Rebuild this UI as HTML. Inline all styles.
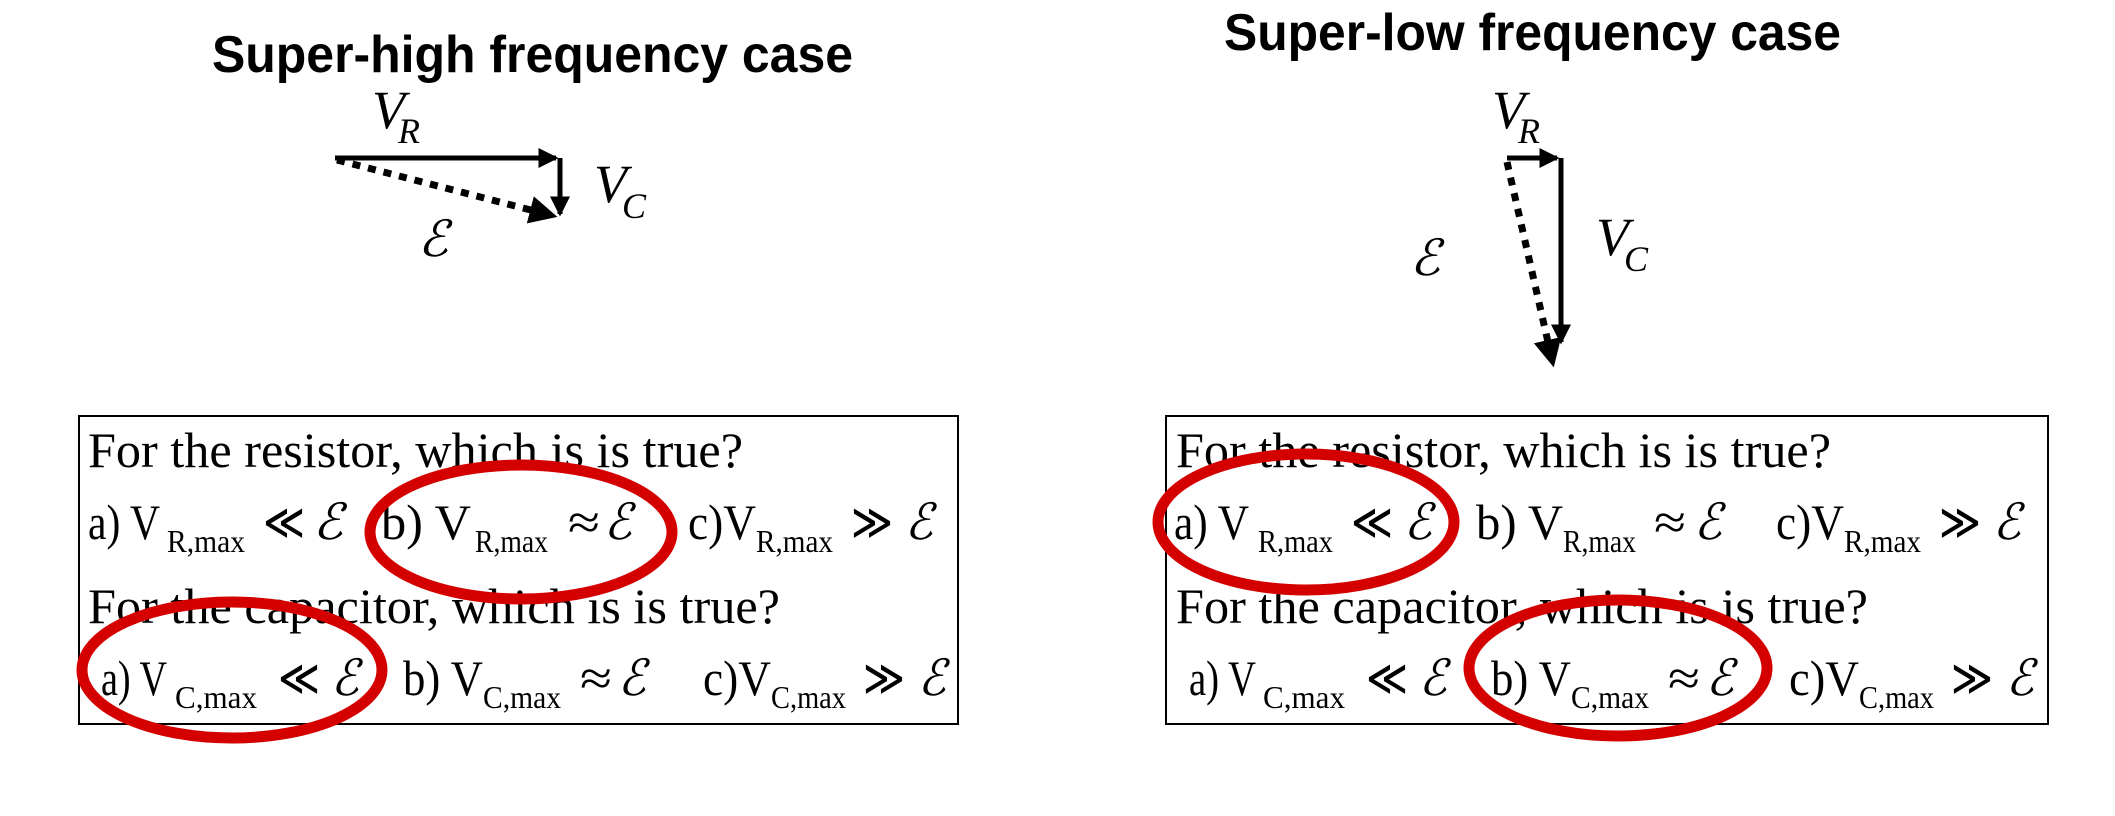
<!DOCTYPE html>
<html><head><meta charset="utf-8"><style>
html,body{margin:0;padding:0;background:#fff;}
svg{display:block;}
.t{font-family:"Liberation Sans",Arial,sans-serif;font-weight:bold;font-size:52px;}
.s{font-family:"Liberation Serif","Times New Roman",serif;font-size:50px;}
.sub{font-size:32px;}
.it{font-family:"Liberation Serif","DejaVu Serif",serif;font-style:italic;}
</style></head><body>
<svg width="2115" height="816" viewBox="0 0 2115 816" xmlns="http://www.w3.org/2000/svg">
<defs>
<marker id="ah" markerWidth="4" markerHeight="4" refX="3.5" refY="2" orient="auto" markerUnits="strokeWidth"><path d="M0,0 L4,2 L0,4 z" fill="#000"/></marker>
</defs>
<text class="t" x="212" y="72" textLength="641" lengthAdjust="spacingAndGlyphs">Super-high frequency case</text>
<text class="t" x="1224" y="50" textLength="617" lengthAdjust="spacingAndGlyphs">Super-low frequency case</text>

<line x1="335" y1="158" x2="556" y2="158" stroke="#000" stroke-width="5" marker-end="url(#ah)"/>
<line x1="560" y1="158" x2="560" y2="214" stroke="#000" stroke-width="5" marker-end="url(#ah)"/>
<line x1="337" y1="160" x2="554" y2="216" stroke="#000" stroke-width="7" stroke-dasharray="8,8" marker-end="url(#ah)"/>
<text class="it" x="372" y="128" font-size="54">V</text><text class="it" x="398" y="143" font-size="36">R</text>
<text class="it" x="594" y="202" font-size="54">V</text><text class="it" x="622" y="218" font-size="36">C</text>
<text class="it" x="418" y="256" font-size="50">ℰ</text>

<line x1="1507" y1="158" x2="1557" y2="158" stroke="#000" stroke-width="5" marker-end="url(#ah)"/>
<line x1="1561" y1="158" x2="1561" y2="342" stroke="#000" stroke-width="5" marker-end="url(#ah)"/>
<line x1="1507" y1="162" x2="1553" y2="364" stroke="#000" stroke-width="7" stroke-dasharray="8,8" marker-end="url(#ah)"/>
<text class="it" x="1492" y="128" font-size="54">V</text><text class="it" x="1518" y="143" font-size="36">R</text>
<text class="it" x="1596" y="255" font-size="54">V</text><text class="it" x="1624" y="271" font-size="36">C</text>
<text class="it" x="1410" y="275" font-size="50">ℰ</text>

<rect x="79" y="416" width="879" height="308" fill="none" stroke="#000" stroke-width="2"/>
<rect x="1166" y="416" width="882" height="308" fill="none" stroke="#000" stroke-width="2"/>

<g class="s">
<text x="88" y="467" textLength="655" lengthAdjust="spacingAndGlyphs">For the resistor, which is is true?</text>
<text x="88" y="623" textLength="692" lengthAdjust="spacingAndGlyphs">For the capacitor, which is is true?</text>

<text x="88" y="539" textLength="72" lengthAdjust="spacingAndGlyphs">a) V</text><text class="sub" x="167" y="552" textLength="78" lengthAdjust="spacingAndGlyphs">R,max</text><text x="263" y="539" textLength="42" lengthAdjust="spacingAndGlyphs">≪</text><text class="it" x="313" y="539" textLength="30" lengthAdjust="spacingAndGlyphs">ℰ</text>
<text x="381" y="539" textLength="90" lengthAdjust="spacingAndGlyphs">b) V</text><text class="sub" x="475" y="552" textLength="73" lengthAdjust="spacingAndGlyphs">R,max</text><text x="568" y="539" textLength="32" lengthAdjust="spacingAndGlyphs">≈</text><text class="it" x="604" y="539" textLength="28" lengthAdjust="spacingAndGlyphs">ℰ</text>
<text x="688" y="539" textLength="68" lengthAdjust="spacingAndGlyphs">c)V</text><text class="sub" x="756" y="552" textLength="77" lengthAdjust="spacingAndGlyphs">R,max</text><text x="851" y="539" textLength="42" lengthAdjust="spacingAndGlyphs">≫</text><text class="it" x="905" y="539" textLength="28" lengthAdjust="spacingAndGlyphs">ℰ</text>

<text x="101" y="695" textLength="66" lengthAdjust="spacingAndGlyphs">a) V</text><text class="sub" x="175" y="708" textLength="82" lengthAdjust="spacingAndGlyphs">C,max</text><text x="278" y="695" textLength="42" lengthAdjust="spacingAndGlyphs">≪</text><text class="it" x="331" y="695" textLength="28" lengthAdjust="spacingAndGlyphs">ℰ</text>
<text x="403" y="695" textLength="80" lengthAdjust="spacingAndGlyphs">b) V</text><text class="sub" x="483" y="708" textLength="78" lengthAdjust="spacingAndGlyphs">C,max</text><text x="580" y="695" textLength="32" lengthAdjust="spacingAndGlyphs">≈</text><text class="it" x="618" y="695" textLength="28" lengthAdjust="spacingAndGlyphs">ℰ</text>
<text x="703" y="695" textLength="68" lengthAdjust="spacingAndGlyphs">c)V</text><text class="sub" x="771" y="708" textLength="75" lengthAdjust="spacingAndGlyphs">C,max</text><text x="863" y="695" textLength="42" lengthAdjust="spacingAndGlyphs">≫</text><text class="it" x="918" y="695" textLength="28" lengthAdjust="spacingAndGlyphs">ℰ</text>

<text x="1176" y="467" textLength="655" lengthAdjust="spacingAndGlyphs">For the resistor, which is is true?</text>
<text x="1176" y="623" textLength="692" lengthAdjust="spacingAndGlyphs">For the capacitor, which is is true?</text>

<text x="1174" y="539" textLength="75" lengthAdjust="spacingAndGlyphs">a) V</text><text class="sub" x="1258" y="552" textLength="75" lengthAdjust="spacingAndGlyphs">R,max</text><text x="1351" y="539" textLength="42" lengthAdjust="spacingAndGlyphs">≪</text><text class="it" x="1404" y="539" textLength="28" lengthAdjust="spacingAndGlyphs">ℰ</text>
<text x="1476" y="539" textLength="87" lengthAdjust="spacingAndGlyphs">b) V</text><text class="sub" x="1563" y="552" textLength="73" lengthAdjust="spacingAndGlyphs">R,max</text><text x="1654" y="539" textLength="32" lengthAdjust="spacingAndGlyphs">≈</text><text class="it" x="1694" y="539" textLength="28" lengthAdjust="spacingAndGlyphs">ℰ</text>
<text x="1776" y="539" textLength="68" lengthAdjust="spacingAndGlyphs">c)V</text><text class="sub" x="1844" y="552" textLength="77" lengthAdjust="spacingAndGlyphs">R,max</text><text x="1939" y="539" textLength="42" lengthAdjust="spacingAndGlyphs">≫</text><text class="it" x="1993" y="539" textLength="28" lengthAdjust="spacingAndGlyphs">ℰ</text>

<text x="1189" y="695" textLength="67" lengthAdjust="spacingAndGlyphs">a) V</text><text class="sub" x="1263" y="708" textLength="82" lengthAdjust="spacingAndGlyphs">C,max</text><text x="1366" y="695" textLength="42" lengthAdjust="spacingAndGlyphs">≪</text><text class="it" x="1419" y="695" textLength="28" lengthAdjust="spacingAndGlyphs">ℰ</text>
<text x="1491" y="695" textLength="80" lengthAdjust="spacingAndGlyphs">b) V</text><text class="sub" x="1571" y="708" textLength="78" lengthAdjust="spacingAndGlyphs">C,max</text><text x="1668" y="695" textLength="32" lengthAdjust="spacingAndGlyphs">≈</text><text class="it" x="1706" y="695" textLength="28" lengthAdjust="spacingAndGlyphs">ℰ</text>
<text x="1789" y="695" textLength="70" lengthAdjust="spacingAndGlyphs">c)V</text><text class="sub" x="1859" y="708" textLength="75" lengthAdjust="spacingAndGlyphs">C,max</text><text x="1951" y="695" textLength="42" lengthAdjust="spacingAndGlyphs">≫</text><text class="it" x="2006" y="695" textLength="28" lengthAdjust="spacingAndGlyphs">ℰ</text>
</g>

<g fill="none" stroke="#d40000" stroke-width="11">
<ellipse cx="521" cy="532" rx="151" ry="67"/>
<ellipse cx="232" cy="670" rx="150" ry="68"/>
<ellipse cx="1306" cy="522" rx="148" ry="68"/>
<ellipse cx="1618" cy="668" rx="149" ry="68"/>
</g>
</svg>
</body></html>
